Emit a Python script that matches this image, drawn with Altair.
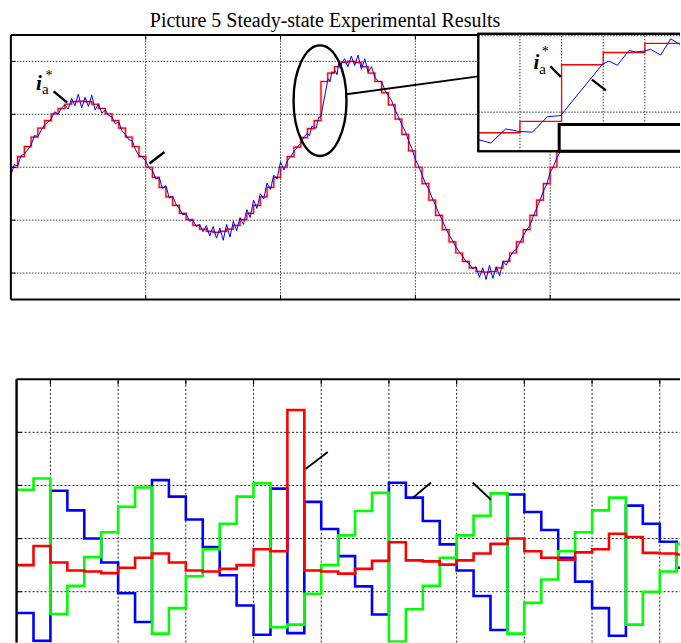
import altair as alt
import pandas as pd

TITLE = "Picture 5 Steady-state Experimental Results"
SERIF = "Liberation Serif"

# ---------------- upper oscillogram (time in grid divisions, current in grid units)
REF_STEP = 0.05
ref_steps = [
    0.0, 0.2, 0.39, 0.57, 0.74, 0.88, 1.01, 1.11, 1.19, 1.24,
    1.25, 1.24, 1.19, 1.11, 1.01, 0.88, 0.74, 0.57, 0.39, 0.2,
    0.0, -0.19, -0.38, -0.56, -0.72, -0.87, -0.99, -1.1, -1.17, -1.21,
    -1.23, -1.21, -1.17, -1.1, -0.99, -0.87, -0.72, -0.56, -0.38, -0.19,
    0.0, 0.2, 0.38, 0.56, 0.73, 0.88, 1.62, 1.78, 1.9, 1.98,
    2.0, 1.98, 1.9, 1.78, 1.62, 1.41, 1.18, 0.91, 0.62, 0.31,
    0.0, -0.31, -0.62, -0.91, -1.18, -1.41, -1.62, -1.78, -1.9, -1.97,
    -1.98, -1.97, -1.9, -1.78, -1.62, -1.41, -1.18, -0.91, -0.62, -0.31,
    0.0, 0.31, 0.62, 0.91, 1.18, 1.41,
]

CUR_STEP = 0.025
cur_early = [
    -0.15, 0.05, 0.02, 0.22, 0.25, 0.33, 0.42, 0.6, 0.58, 0.7,
    0.8, 0.85, 0.92, 1.05, 1.0, 1.12, 1.18, 1.1, 1.3, 1.16,
    1.38, 1.12, 1.32, 1.15, 1.36, 1.08, 1.2, 1.02, 1.08, 0.98,
    0.95, 0.82, 0.86, 0.68, 0.62, 0.52, 0.5, 0.33, 0.22, 0.2,
    0.12, -0.02, -0.06, -0.22, -0.2, -0.4, -0.35, -0.58, -0.55, -0.7,
    -0.78, -0.9, -0.88, -1.02, -1.0, -1.12, -1.08, -1.22, -1.1, -1.3,
    -1.12, -1.34, -1.15, -1.38, -1.08, -1.32, -1.02, -1.2, -0.95, -1.08,
    -0.8, -0.95, -0.62, -0.78, -0.5, -0.6, -0.3, -0.42, -0.15, -0.22,
    0.1, -0.05, 0.12, 0.2, 0.3, 0.38, 0.45, 0.58,
]
cur_zoom_t = [2.2, 2.215, 2.233, 2.249, 2.265, 2.283, 2.299, 2.349, 2.357,
              2.367, 2.381, 2.389, 2.399, 2.407, 2.419, 2.431, 2.442]
cur_zoom_v = [0.64, 0.595, 0.78, 0.747, 0.738, 0.94, 0.955, 1.626, 1.669,
              1.613, 1.808, 1.786, 1.799, 1.821, 1.747, 1.959, 1.886]
CUR_LATE_START = 2.45
cur_late = [
    1.95, 2.05, 1.9, 2.1, 1.92, 2.12, 1.85, 2.05, 1.8, 1.9,
    1.7, 1.62, 1.62, 1.45, 1.35, 1.25, 1.08, 0.95, 0.8, 0.68,
    0.5, 0.35,
    0.15, 0.02, -0.15, -0.3, -0.42, -0.58, -0.72, -0.88, -1.0, -1.15,
    -1.28, -1.38, -1.5, -1.6, -1.68, -1.78, -1.82, -1.92, -1.88, -2.08,
    -1.9, -2.12, -1.85, -2.1, -1.88, -2.05, -1.78, -1.85, -1.7, -1.6,
    -1.55, -1.42, -1.3, -1.18, -1.1, -0.92, -0.78, -0.62, -0.45, -0.32,
    -0.1, 0.02, 0.18, 0.3, 0.48, 0.62, 0.78, 0.9, 1.05, 1.18, 1.3, 1.4,
]

# ---------------- lower oscillogram (time in grid divisions, grid units)
PHASE_STEP = 0.25
blue_steps = [0.6, 0.075, 2.9, 2.53, 2.0, 1.55, 0.97, 0.43, 3.1, 2.79,
              2.36, 1.84, 1.31, 0.74, 0.19, 2.94, 0.22, 2.69, 2.18, 1.67,
              1.1, 0.57, 3.05, 2.77, 2.33, 1.89, 1.4, 0.92, 0.28, 2.83,
              2.5, 2.16, 1.64, 1.19, 0.69, 0.17, 2.62, 2.28, 1.94, 1.45]
green_steps = [2.92, 3.13, 0.58, 1.11, 1.65, 2.12, 2.6, 2.96, 0.21, 0.69,
               1.29, 1.8, 2.28, 2.79, 3.04, 0.33, 0.38, 0.96, 1.5, 2.06,
               2.52, 2.86, 0.06, 0.67, 1.11, 1.64, 2.06, 2.43, 2.85, 0.21,
               0.79, 1.23, 1.76, 2.12, 2.53, 2.77, 0.38, 1.0, 1.38, 1.9]
red_steps = [1.5, 1.86, 1.55, 1.4, 1.38, 1.35, 1.45, 1.64, 1.72, 1.55,
             1.4, 1.38, 1.43, 1.5, 1.8, 1.76, 4.42, 1.4, 1.38, 1.34,
             1.43, 1.58, 1.93, 1.59, 1.57, 1.51, 1.59, 1.72, 1.9, 2.0,
             1.76, 1.64, 1.6, 1.74, 1.8, 2.09, 2.03, 1.73, 1.72, 1.7]

# ---------------- annotations (data units of each panel)
top_label_i = [(0.186, 1.462), (3.877, 1.862)]
top_label_a = [(0.230, 1.377), (3.919, 1.755)]
top_label_star = [(0.256, 1.64), (3.938, 2.094)]
top_pointers = [(0.317, 1.434, 0.418, 1.221), (1.028, 0.07, 1.139, 0.289),
                (4.002, 1.906, 4.079, 1.708), (4.310, 1.655, 4.413, 1.453)]
ellipse_center = (2.293, 1.258)
connector = (2.4896, 1.377, 3.467, 1.717)
zoom_window = (2.2, 2.4422, 0.488, 2.026)
zoom_legend = (2.2971, 0.838)
bottom_pointers = [(4.268, 3.308, 4.597, 3.628), (5.851, 2.763, 6.122, 3.056),
                   (6.736, 3.056, 7.007, 2.731)]

# ---------------- helpers
def steps_df(values, step):
    t = [round(i * step, 4) for i in range(len(values))] + [round(len(values) * step, 4)]
    return pd.DataFrame({"t": t, "v": list(values) + [values[-1]]})

ref_df = steps_df(ref_steps, REF_STEP)
cur_t = ([round(i * CUR_STEP, 4) for i in range(len(cur_early))] + cur_zoom_t +
         [round(CUR_LATE_START + i * CUR_STEP, 4) for i in range(len(cur_late))])
cur_df = pd.DataFrame({"t": cur_t, "v": cur_early + cur_zoom_v + cur_late})

TOP_H = 301
TX = alt.Scale(domain=[-0.0807, 4.963], nice=False, zero=False)
TY = alt.Scale(domain=[-2.528, 3.151], nice=False, zero=False)
IX = alt.Scale(domain=[zoom_window[0], zoom_window[1]], range=[479, 681], nice=False, zero=False)
IY = alt.Scale(domain=[zoom_window[2], zoom_window[3]], range=[151, 33.3], nice=False, zero=False)
BX = alt.Scale(domain=[-0.2448, 9.799], nice=False, zero=False)
BY = alt.Scale(domain=[0.043, 5.043], nice=False, zero=False)


def X(f, s):
    return alt.X(f, type="quantitative", scale=s, axis=None)


def Y(f, s):
    return alt.Y(f, type="quantitative", scale=s, axis=None)


def hrules(vals, a, b, sx, sy, **kw):
    df = pd.DataFrame({"v": vals, "a": [a] * len(vals), "b": [b] * len(vals)})
    return alt.Chart(df).mark_rule(**kw).encode(y=Y("v", sy), x=X("a", sx), x2="b")


def vrules(vals, a, b, sx, sy, **kw):
    df = pd.DataFrame({"t": vals, "a": [a] * len(vals), "b": [b] * len(vals)})
    return alt.Chart(df).mark_rule(**kw).encode(x=X("t", sx), y=Y("a", sy), y2="b")


def segs(rows, sx, sy, **kw):
    df = pd.DataFrame(rows, columns=["x0", "y0", "x1", "y1"])
    return alt.Chart(df).mark_rule(**kw).encode(x=X("x0", sx), y=Y("y0", sy), x2="x1", y2="y1")


def labels(rows, txt, sx, sy, **kw):
    df = pd.DataFrame(rows, columns=["t", "v"])
    df["s"] = txt
    return alt.Chart(df).mark_text(font=SERIF, align="left", baseline="alphabetic",
                                   color="black", **kw).encode(
        x=X("t", sx), y=Y("v", sy), text="s:N")


GRID_T = dict(color="#222", strokeWidth=0.9, strokeDash=[1.5, 1.5])
FRAME = dict(color="black", strokeWidth=2)

title_layer = alt.Chart(pd.DataFrame({"s": [TITLE]})).mark_text(
    font=SERIF, fontSize=20, align="left", baseline="alphabetic", color="black").encode(
    x=alt.value(150), y=alt.value(26.5), text="s:N")

top_layers = [
    title_layer,
    vrules([1, 2, 3, 4], -2.5, 2.5, TX, TY, **GRID_T),
    hrules([-2, -1, 0, 1, 2], 0, 4.963, TX, TY, **GRID_T),
    alt.Chart(ref_df).mark_line(interpolate="step-after", color="#ff8080", opacity=0.55,
                                strokeWidth=2.6, clip=True).encode(x=X("t", TX), y=Y("v", TY)),
    alt.Chart(ref_df).mark_line(interpolate="step-after", color="#ff0000",
                                strokeWidth=1.2, clip=True).encode(x=X("t", TX), y=Y("v", TY)),
    alt.Chart(cur_df).mark_line(color="#0000ff", strokeWidth=1.0, clip=True).encode(
        x=X("t", TX), y=Y("v", TY)),
    vrules([0], -2.5, 2.5, TX, TY, **FRAME),
    hrules([2.5, -2.5], 0, 4.963, TX, TY, **FRAME),
    hrules([-2, -1, 0, 1, 2], 0, 0.035, TX, TY, color="black", strokeWidth=1),
    vrules([1, 2, 3, 4], 2.5, 2.41, TX, TY, color="black", strokeWidth=1),
    vrules([1, 2, 3, 4], -2.5, -2.41, TX, TY, color="black", strokeWidth=1),
    alt.Chart(pd.DataFrame({"t": [ellipse_center[0]], "v": [ellipse_center[1]]})).mark_point(
        shape="M 0 -1 C 0.2645 -1 0.479 -0.5523 0.479 0 C 0.479 0.5523 0.2645 1 0 1 "
              "C -0.2645 1 -0.479 0.5523 -0.479 0 C -0.479 -0.5523 -0.2645 -1 0 -1 Z",
        size=12254, filled=False, stroke="black", strokeWidth=2.4, opacity=1).encode(
        x=X("t", TX), y=Y("v", TY)),
    segs([connector], TX, TY, color="black", strokeWidth=2),
    # zoomed window
    alt.Chart(pd.DataFrame({"a": [zoom_window[0]], "b": [2.6], "c": [zoom_window[2]], "d": [zoom_window[3]]}))
    .mark_rect(fill="white", stroke="black", strokeWidth=2, clip=True)
    .encode(x=X("a", IX), x2="b", y=Y("c", IY), y2="d"),
    vrules([2.25, 2.30, 2.35, 2.40], zoom_window[2], zoom_window[3], IX, IY, **GRID_T),
    hrules([1.0, 2.0], zoom_window[0], 2.6, IX, IY, clip=True, **GRID_T),
    alt.Chart(ref_df[(ref_df.t >= 2.2) & (ref_df.t <= 2.5)]).mark_line(
        interpolate="step-after", color="#ff0000", strokeWidth=1.3, clip=True).encode(
        x=X("t", IX), y=Y("v", IY)),
    alt.Chart(cur_df[(cur_df.t >= 2.2) & (cur_df.t <= 2.46)]).mark_line(
        color="#0000ff", strokeWidth=1.0, clip=True).encode(x=X("t", IX), y=Y("v", IY)),
    alt.Chart(pd.DataFrame({"a": [zoom_window[0]], "b": [2.6], "c": [zoom_window[2]], "d": [zoom_window[3]]}))
    .mark_rect(fill=None, filled=False, stroke="black", strokeWidth=2, clip=True)
    .encode(x=X("a", IX), x2="b", y=Y("c", IY), y2="d"),
    alt.Chart(pd.DataFrame({"a": [zoom_legend[0]], "b": [2.6], "c": [zoom_window[2]], "d": [zoom_legend[1]]}))
    .mark_rect(fill="white", stroke="black", strokeWidth=3, clip=True)
    .encode(x=X("a", IX), x2="b", y=Y("c", IY), y2="d"),
    segs(top_pointers, TX, TY, color="black", strokeWidth=2.4),
    labels(top_label_i, "i", TX, TY, fontSize=21, fontStyle="italic", fontWeight="bold"),
    labels(top_label_a, "a", TX, TY, fontSize=15),
    labels(top_label_star, "*", TX, TY, fontSize=14),
]

top = alt.layer(*top_layers).resolve_scale(x="independent", y="independent").properties(
    width=681, height=TOP_H)

GRID_B = dict(color="#222", strokeWidth=1, strokeDash=[2, 2])
grid_u = [0.5 + k for k in range(10)]


def phase(values, color):
    return alt.Chart(steps_df(values, PHASE_STEP)).mark_line(
        interpolate="step-after", color=color, strokeWidth=2.6, clip=True).encode(
        x=X("t", BX), y=Y("v", BY))


bottom_layers = [
    vrules(grid_u, 0.043, 5.0, BX, BY, **GRID_B),
    hrules([1, 2, 3, 4], 0, 9.799, BX, BY, **GRID_B),
    phase(blue_steps, "#0000ff"),
    phase(green_steps, "#00ff00"),
    phase(red_steps, "#ff0000"),
    vrules([0], 0.043, 5.0, BX, BY, color="black", strokeWidth=2.4),
    hrules([5.0], 0, 9.799, BX, BY, color="black", strokeWidth=2),
    vrules(grid_u, 5.0, 4.9, BX, BY, color="black", strokeWidth=1.2),
    hrules([1, 2, 3, 4], 0, 0.075, BX, BY, color="black", strokeWidth=1.2),
    segs(bottom_pointers, BX, BY, color="black", strokeWidth=1.8),
]

bottom = alt.layer(*bottom_layers).properties(width=681, height=266)

chart = alt.vconcat(top, bottom, spacing=76).properties(
    padding={"left": 0, "top": 0, "right": 0, "bottom": 0}
).configure_view(stroke=None)

chart.save("out.html", embed_options={"renderer": "svg", "actions": False})
